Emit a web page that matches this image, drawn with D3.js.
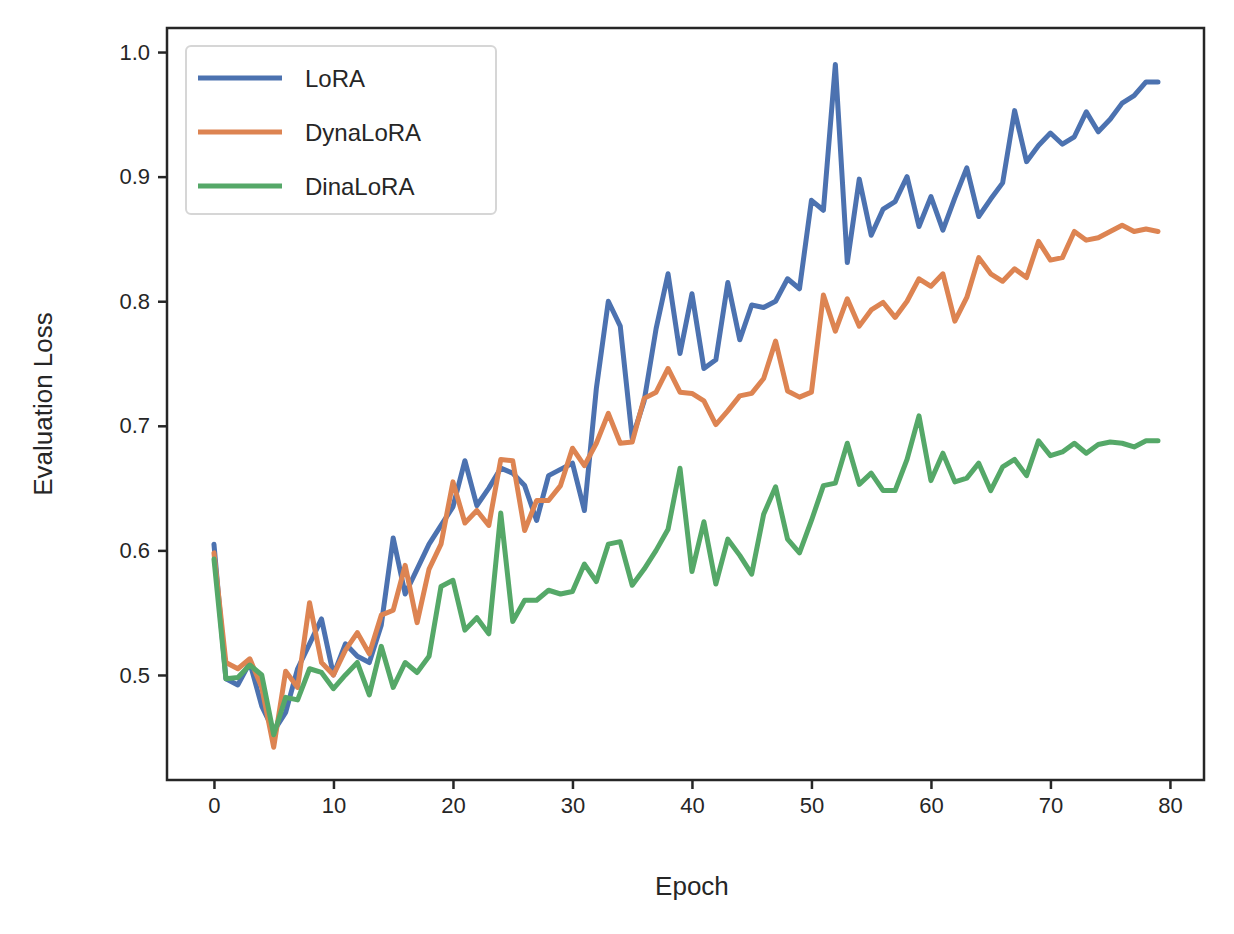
<!DOCTYPE html>
<html>
<head>
<meta charset="utf-8">
<script src="https://cdn.jsdelivr.net/npm/d3@7"></script>
<style>
  body { margin: 0; background: #fff; }
  text { font-family: "Liberation Sans", Arial, sans-serif; fill: #262626; }
</style>
</head>
<body>
<div id="vis"></div>
<script>
const FRAME_WIDTH = 1234;
const FRAME_HEIGHT = 934;
const MARGINS = {left: 167, right: 30, top: 28, bottom: 154};

const epochs = d3.range(80);
const lora = [0.605,0.497,0.492,0.51,0.475,0.455,0.47,0.505,0.525,0.545,0.5,0.525,0.515,0.51,0.54,0.61,0.565,0.585,0.605,0.62,
  0.635,0.672,0.636,0.65,0.666,0.662,0.652,0.624,0.66,0.665,0.67,0.632,0.73,0.8,0.78,0.69,0.72,0.778,0.822,0.758,
  0.806,0.746,0.753,0.815,0.769,0.797,0.795,0.8,0.818,0.81,0.881,0.873,0.99,0.831,0.898,0.853,0.874,0.88,0.9,0.86,
  0.884,0.857,0.883,0.907,0.868,0.882,0.895,0.953,0.912,0.925,0.935,0.926,0.932,0.952,0.936,0.946,0.959,0.965,0.976,0.976];
const dynalora = [0.598,0.51,0.505,0.513,0.49,0.442,0.503,0.49,0.558,0.51,0.5,0.52,0.534,0.517,0.548,0.552,0.588,0.542,0.585,0.605,
  0.655,0.622,0.632,0.62,0.673,0.672,0.616,0.64,0.64,0.652,0.682,0.668,0.686,0.71,0.686,0.687,0.722,0.727,0.746,0.727,
  0.726,0.72,0.701,0.712,0.724,0.726,0.738,0.768,0.728,0.723,0.727,0.805,0.776,0.802,0.78,0.793,0.799,0.787,0.8,0.818,
  0.812,0.822,0.784,0.803,0.835,0.822,0.816,0.826,0.819,0.848,0.833,0.835,0.856,0.849,0.851,0.856,0.861,0.856,0.858,0.856];
const dinalora = [0.593,0.497,0.498,0.508,0.5,0.452,0.482,0.48,0.505,0.502,0.489,0.5,0.51,0.484,0.523,0.49,0.51,0.502,0.515,0.571,
  0.576,0.536,0.546,0.533,0.63,0.543,0.56,0.56,0.568,0.565,0.567,0.589,0.575,0.605,0.607,0.572,0.585,0.6,0.617,0.666,
  0.583,0.623,0.573,0.609,0.596,0.581,0.629,0.651,0.609,0.598,0.624,0.652,0.654,0.686,0.653,0.662,0.648,0.648,0.673,0.708,
  0.656,0.678,0.655,0.658,0.67,0.648,0.667,0.673,0.66,0.688,0.676,0.679,0.686,0.678,0.685,0.687,0.686,0.683,0.688,0.688];

const seriesNames = ["LoRA", "DynaLoRA", "DinaLoRA"];
const seriesValues = [lora, dynalora, dinalora];
const colors = ["#4c72b0", "#dd8452", "#55a868"];
const xTicks = [0, 10, 20, 30, 40, 50, 60, 70, 80];
const yTicks = [0.5, 0.6, 0.7, 0.8, 0.9, 1.0];

const VIS_WIDTH = FRAME_WIDTH - MARGINS.left - MARGINS.right;
const VIS_HEIGHT = FRAME_HEIGHT - MARGINS.top - MARGINS.bottom;

const X_SCALE = d3.scaleLinear().domain([-3.93, 82.85]).range([0, VIS_WIDTH]);
const Y_SCALE = d3.scaleLinear().domain([0.4157, 1.0193]).range([VIS_HEIGHT, 0]);

const FRAME = d3.select("#vis").append("svg")
  .attr("width", FRAME_WIDTH).attr("height", FRAME_HEIGHT);

const G = FRAME.append("g")
  .attr("transform", "translate(" + MARGINS.left + "," + MARGINS.top + ")");

const line = d3.line().x((d, i) => X_SCALE(epochs[i])).y(d => Y_SCALE(d));

seriesValues.forEach((vals, k) => {
  G.append("path").datum(vals)
    .attr("d", line)
    .attr("fill", "none")
    .attr("stroke", colors[k])
    .attr("stroke-width", 5)
    .attr("stroke-linejoin", "round")
    .attr("stroke-linecap", "round");
});

// axes
const xAxis = G.append("g").attr("transform", "translate(0," + VIS_HEIGHT + ")")
  .call(d3.axisBottom(X_SCALE).tickValues(xTicks).tickSize(9).tickPadding(8));
const yAxis = G.append("g")
  .call(d3.axisLeft(Y_SCALE).tickValues(yTicks).tickFormat(d3.format(".1f")).tickSize(9).tickPadding(8));
[xAxis, yAxis].forEach(a => {
  a.select(".domain").remove();
  a.selectAll("line").attr("stroke", "#262626").attr("stroke-width", 2.5);
  a.selectAll("text").attr("font-size", "22px").attr("fill", "#262626")
    .style("font-family", "'Liberation Sans', Arial, sans-serif");
});

G.append("rect").attr("width", VIS_WIDTH).attr("height", VIS_HEIGHT)
  .attr("fill", "none").attr("stroke", "#262626").attr("stroke-width", 2.5);

FRAME.append("text").attr("x", MARGINS.left + X_SCALE(40)).attr("y", 895)
  .attr("text-anchor", "middle").attr("font-size", "26px").text("Epoch");
FRAME.append("text")
  .attr("transform", "translate(52," + (MARGINS.top + VIS_HEIGHT / 2) + ") rotate(-90)")
  .attr("text-anchor", "middle").attr("font-size", "26px").text("Evaluation Loss");

// legend
const LEG = FRAME.append("g").attr("transform", "translate(186,46)");
LEG.append("rect").attr("width", 310).attr("height", 168).attr("rx", 5)
  .attr("fill", "#fff").attr("fill-opacity", 0.8).attr("stroke", "#d6d6d6").attr("stroke-width", 2);
seriesNames.forEach((name, k) => {
  const y = 32 + k * 54;
  LEG.append("line").attr("x1", 12).attr("x2", 96).attr("y1", y).attr("y2", y)
    .attr("stroke", colors[k]).attr("stroke-width", 5);
  LEG.append("text").attr("x", 119).attr("y", y + 9).attr("font-size", "24px").text(name);
});
</script>
</body>
</html>
